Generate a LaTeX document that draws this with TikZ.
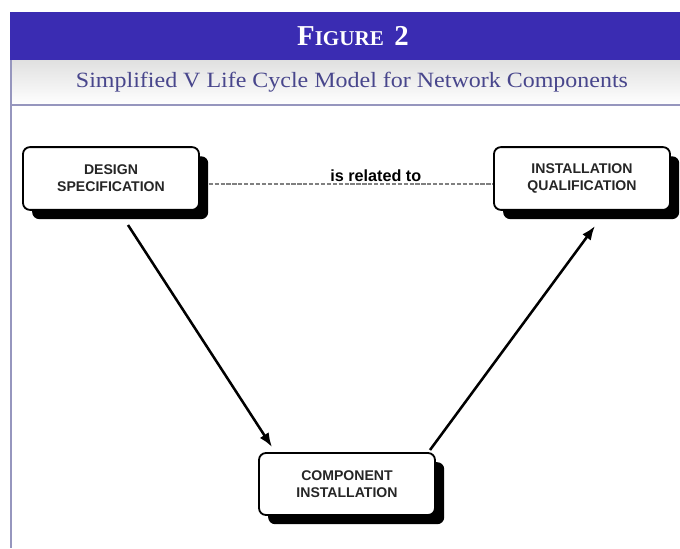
\documentclass[tikz,border=0pt]{standalone}
\usepackage{fontspec}
\setmainfont{Liberation Serif}
\setsansfont{Liberation Sans}
\newfontfamily\subtitlefont[FakeStretch=1.1]{Liberation Serif}
\usetikzlibrary{arrows.meta,shadows}
\definecolor{bandblue}{RGB}{58,44,178}
\definecolor{subtitleblue}{RGB}{72,70,140}
\definecolor{ruleblue}{RGB}{150,150,190}

\begin{document}
\begin{tikzpicture}[x=0.025cm,y=-0.025cm,
	stage/.style={draw=black,line width=1.3pt,fill=white,rounded corners=5pt,
		minimum width=4.4cm,minimum height=1.57cm,align=center,text=black!85,
		font=\sffamily\bfseries\fontsize{10}{12}\selectfont,
		drop shadow={shadow xshift=0.23cm,shadow yshift=-0.23cm,fill=black,opacity=1}},
	flow/.style={-{Latex[length=10pt,width=7.5pt]},line width=1.8pt}]
	\useasboundingbox (0,0) rectangle (680,548);
	\fill[white] (0,0) rectangle (680,548);
	% heading and subtitle bands
	\fill[bandblue] (10,12) rectangle (680,60);
	\shade[top color=black!12,bottom color=white] (10,60) rectangle (680,105);
	\draw[ruleblue,line width=0.8pt] (10,105) -- (680,105);
	\draw[ruleblue,line width=1.2pt] (11,60) -- (11,548);
	\node[text=white,font=\bfseries] (heading) at (353,36)
		{{\fontsize{20.5}{20}\selectfont F}{\fontsize{15}{15}\selectfont IGURE}\ \ \ {\fontsize{20.5}{20}\selectfont 2}};
	\node[text=subtitleblue,font=\subtitlefont\fontsize{15.5}{16}\selectfont] (subtitle) at (352,82)
		{Simplified V Life Cycle Model for Network Components};
	% the three stages
	\node[stage] (design) at (111,178.5) {DESIGN\\SPECIFICATION};
	\node[stage] (qual) at (582,178.5) {INSTALLATION\\QUALIFICATION};
	\node[stage,minimum height=1.55cm] (install) at (347,484) {COMPONENT\\INSTALLATION};
	\draw[gray,line width=1pt,dash pattern=on 3pt off 1.2pt,shorten <=0.22cm]
		([yshift=-0.14cm]design.east) -- ([yshift=-0.14cm]qual.west)
		node[pos=0.6,above=-2pt,text=black,font=\sffamily\bfseries\fontsize{11.5}{12}\selectfont] (rel) {is related to};
	\coordinate (downstart) at (128,225);
	\coordinate (downend) at (272,447);
	\coordinate (upstart) at (430,450);
	\coordinate (upend) at (595,226);
	\draw[flow] (downstart) -- (downend);
	\draw[flow] (upstart) -- (upend);
\end{tikzpicture}
\end{document}
